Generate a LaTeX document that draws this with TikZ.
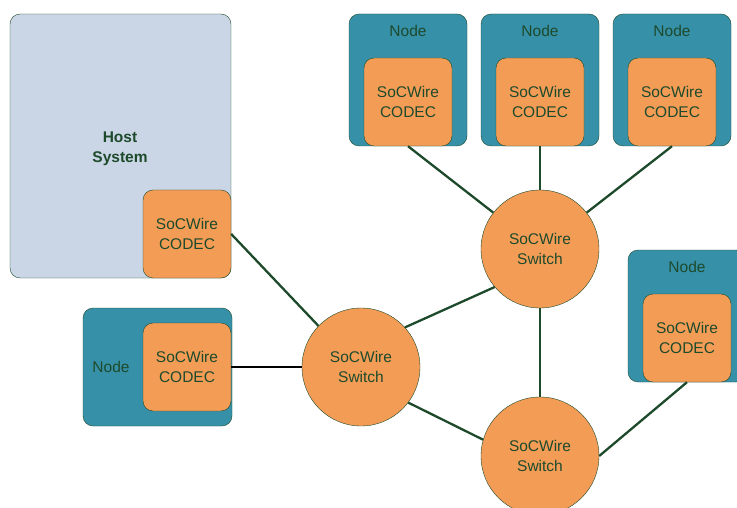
\documentclass[tikz,border=0pt]{standalone}
\usepackage{fontspec}
\setmainfont{Liberation Sans}
\usepackage{tikz}
\usetikzlibrary{positioning}

\definecolor{darkgreen}{HTML}{1E4A2C}
\definecolor{codecorange}{HTML}{F39C56}
\definecolor{nodeteal}{HTML}{3590A8}
\definecolor{hostblue}{HTML}{CAD6E5}

\tikzset{
  txt/.style={text=darkgreen, font=\fontsize{15.5}{20}\selectfont, align=center},
  hostbox/.style={draw=darkgreen, fill=hostblue, rounded corners=10pt},
  nodebox/.style={draw=darkgreen, fill=nodeteal, rounded corners=10pt},
  codec/.style={draw=darkgreen, fill=codecorange, rounded corners=10pt, minimum width=88pt, minimum height=88pt, txt},
  switch/.style={draw=darkgreen, fill=codecorange, circle, minimum size=118pt, inner sep=0pt, txt},
  link/.style={draw=darkgreen, line width=2.3pt}
}

\begin{document}
\begin{tikzpicture}[x=1pt,y=-1pt]
        \useasboundingbox (0,0) rectangle (737,508);

        % host with its codec
        \node[hostbox, minimum width=221pt, minimum height=264pt] (host) at (120.5,146) {};
        \node[txt, font=\fontsize{15.5}{20}\selectfont\bfseries] (hostt) at (120,148.5) {Host\\System};
        \node[codec] (hc) at (187,234) {SoCWire\\CODEC};

        % nodes across the top
        \node[nodebox, minimum width=118pt, minimum height=132pt] (n1) at (408,80) {};
        \node[nodebox, minimum width=118pt, minimum height=132pt] (n2) at (540,80) {};
        \node[nodebox, minimum width=118pt, minimum height=132pt] (n3) at (672,80) {};
        \node[txt] (n1t) at (408,31) {Node};
        \node[txt] (n2t) at (540,31) {Node};
        \node[txt] (n3t) at (672,31) {Node};
        \node[codec] (c1) at (408,102) {SoCWire\\CODEC};
        \node[codec] (c2) at (540,102) {SoCWire\\CODEC};
        \node[codec] (c3) at (672,102) {SoCWire\\CODEC};

        % node on the right
        \node[nodebox, minimum width=118pt, minimum height=132pt] (nr) at (687,316) {};
        \node[txt] (nrt) at (687,267) {Node};
        \node[codec] (rc) at (687,338) {SoCWire\\CODEC};

        % node on the left
        \node[nodebox, minimum width=149pt, minimum height=118pt] (nl) at (157.5,367) {};
        \node[txt] (nlt) at (111,367) {Node};
        \node[codec] (lc) at (187,367) {SoCWire\\CODEC};

        % switches
        \node[switch] (s1) at (361,367) {SoCWire\\Switch};
        \node[switch] (s2) at (540,249) {SoCWire\\Switch};
        \node[switch] (s3) at (540,456) {SoCWire\\Switch};

        \draw[link] (hc.east) -- (s1.136);
        \draw[line width=2.5pt] (lc.east) -- (s1.west);
        \draw[link] (s1.42) -- (s2.220);
        \draw[link] (s1.-37) -- (s3.164);
        \draw[link] (s2) -- (s3);
        \draw[link] (c1.south) -- (s2);
        \draw[link] (c2.south) -- (s2);
        \draw[link] (c3.south) -- (s2);
        \draw[link] (rc.south) -- (s3.east);
      \end{tikzpicture}
\end{document}
